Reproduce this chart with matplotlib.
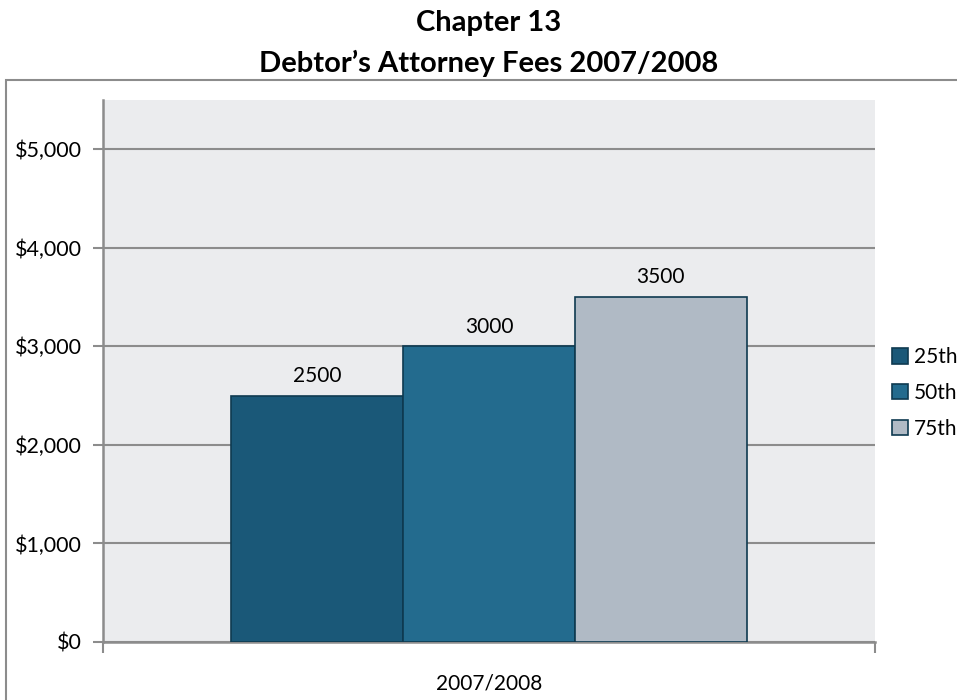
import matplotlib.pyplot as plt
from matplotlib.patches import Rectangle
from matplotlib.ticker import FuncFormatter

plt.rcParams['font.family'] = ['Lato', 'DejaVu Sans']

period = "2007/2008"
percentiles = ["25th", "50th", "75th"]
fees = [2500, 3000, 3500]
colors = ["#1a5878", "#236b8e", "#b0bac5"]

fig = plt.figure(figsize=(9.57, 7.0), dpi=100)
ax = fig.add_axes([103 / 957, 1 - 642 / 700, 772 / 957, 542 / 700])

# outer chart frame, runs off the right and bottom edges
fig.patches.append(Rectangle((6 / 957, -0.05), 1.0, 1 - 80 / 700 + 0.05,
                             transform=fig.transFigure, fill=False,
                             edgecolor="#8c8c8c", linewidth=1.5))

width = 0.2225
offsets = [-width, 0, width]
for name, val, col, off in zip(percentiles, fees, colors, offsets):
    ax.bar(off, val, width=width, color=col, edgecolor="#0e3a50",
           linewidth=1.2, label=name, zorder=3)
    ax.text(off, val + 100, str(val), ha="center", va="bottom",
            fontsize=15, zorder=4)

ax.set_facecolor("#ebecee")
ax.set_xlim(-0.5, 0.5)
ax.set_ylim(0, 5500)
ax.set_yticks(range(0, 5001, 1000))
ax.yaxis.set_major_formatter(FuncFormatter(lambda v, p: f"${v:,.0f}"))
ax.yaxis.grid(True, color="#8c8c8c", linewidth=1.5, zorder=1)
ax.tick_params(axis="y", length=7, width=1.5, color="#8c8c8c",
               labelsize=15.5, pad=8)

ax.set_xticks([-0.5, 0.5])
ax.set_xticklabels([])
ax.set_xticks([0], minor=True)
ax.set_xticklabels([period], minor=True, fontsize=15)
ax.tick_params(axis="x", which="major", length=8, width=1.5, color="#8c8c8c")
ax.tick_params(axis="x", which="minor", length=0, pad=23)

for side in ("top", "right"):
    ax.spines[side].set_visible(False)
for side in ("left", "bottom"):
    ax.spines[side].set_color("#8c8c8c")
    ax.spines[side].set_linewidth(1.8)

fig.text(489 / 957, 1 - 23 / 700, "Chapter 13", ha="center", va="center",
         fontsize=21, fontweight="bold")
fig.text(489 / 957, 1 - 63 / 700, "Debtor\u2019s Attorney Fees 2007/2008",
         ha="center", va="center", fontsize=21, fontweight="bold")

fig.legend(loc="center left", bbox_to_anchor=(884 / 957, 1 - 393 / 700),
           frameon=False, fontsize=15, handlelength=0.75, handleheight=0.75,
           handletextpad=0.3, labelspacing=0.75, borderaxespad=0)

fig.savefig("out.png", dpi=100)
